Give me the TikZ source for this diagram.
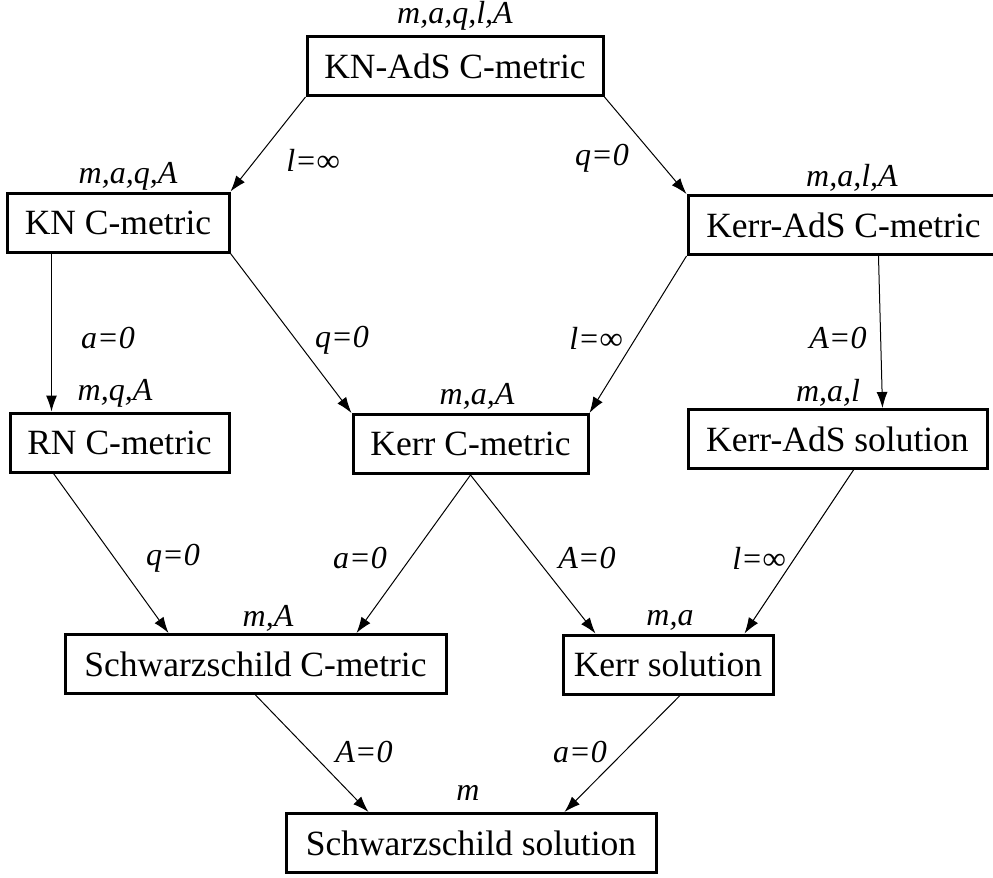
\documentclass[tikz,border=0pt]{standalone}
\usepackage{fontspec}
\setmainfont{Liberation Serif}
\usepackage{tikz}
\usetikzlibrary{arrows.meta,calc}

\begin{document}
\begin{tikzpicture}[x=0.5pt,y=-0.5pt,
    box/.style={rectangle, draw, line width=1.5pt, minimum height=29.5pt, inner sep=0pt,
                font=\fontsize{17.75}{20}\selectfont},
    par/.style={inner sep=0pt, font=\fontsize{16}{18}\selectfont\itshape},
    cond/.style={inner sep=0pt, font=\fontsize{16}{18}\selectfont\itshape},
    link/.style={-{Latex[length=8pt,width=5.5pt]}, line width=0.5pt}]
    \useasboundingbox (0,0) rectangle (993,878);

    \node[box, minimum width=148pt]   (knads)     at (455,66)    {KN-AdS C-metric};
    \node[box, minimum width=111pt]   (knc)       at (118,222.5) {KN C-metric};
    \node[box, minimum width=155.5pt] (kerradsc)  at (843.5,225) {Kerr-AdS C-metric};
    \node[box, minimum width=109.5pt] (rn)        at (119.5,442.5) {RN C-metric};
    \node[box, minimum width=117.5pt] (kerrc)     at (470.5,444) {Kerr C-metric};
    \node[box, minimum width=149.5pt] (kerradss)  at (837.5,439) {Kerr-AdS solution};
    \node[box, minimum width=190.5pt] (schwc)     at (255.5,664) {Schwarzschild C-metric};
    \node[box, minimum width=105pt]   (kerrs)     at (668,664.5) {Kerr solution};
    \node[box, minimum width=185pt]   (schws)     at (471,843)   {Schwarzschild solution};

    % parameters above each box
    \node[par] (p-knads)    at (455,16)  {m,a,q,l,A};
    \node[par] (p-knc)      at (128,176) {m,a,q,A};
    \node[par] (p-kerradsc) at (852,178) {m,a,l,A};
    \node[par] (p-rn)       at (115,393) {m,q,A};
    \node[par] (p-kerrc)    at (477,396) {m,a,A};
    \node[par] (p-kerradss) at (828,393) {m,a,l};
    \node[par] (p-schwc)    at (268,618) {m,A};
    \node[par] (p-kerrs)    at (670,620) {m,a};
    \node[par] (p-schws)    at (468,793) {m};

    % limits
    \node[cond] (c1)  at (313,160) {l=∞};
    \node[cond] (c2)  at (602,158) {q=0};
    \node[cond] (c3)  at (108,338) {a=0};
    \node[cond] (c4)  at (342,340) {q=0};
    \node[cond] (c5)  at (596,338) {l=∞};
    \node[cond] (c6)  at (838,338) {A=0};
    \node[cond] (c7)  at (173,558) {q=0};
    \node[cond] (c8)  at (360,558) {a=0};
    \node[cond] (c9)  at (587,558) {A=0};
    \node[cond] (c10) at (759,558) {l=∞};
    \node[cond] (c11) at (364,752) {A=0};
    \node[cond] (c12) at (580,752) {a=0};

    \path[link] (knads.south west) edge (knc.north east)
          (knads.south east) edge (kerradsc.north west)
          ($(knc.south west)+(46,0)$) edge ($(rn.north west)+(43,0)$)
          (knc.south east) edge (kerrc.north west)
          (kerradsc.south west) edge (kerrc.north east)
          ($(kerradsc.south west)+(192,0)$) edge ($(kerradss.north west)+(196,0)$)
          ($(rn.south west)+(45,0)$) edge ($(schwc.north west)+(105,0)$)
          (kerrc.south) edge ($(schwc.north east)+(-91,0)$)
          (kerrc.south) edge ($(kerrs.north west)+(34,0)$)
          ($(kerradss.south west)+(167,0)$) edge ($(kerrs.north east)+(-30,0)$)
          (schwc.south) edge ($(schws.north west)+(84,0)$)
          ($(kerrs.south)+(12,0)$) edge ($(schws.north east)+(-93,0)$);
\end{tikzpicture}
\end{document}
